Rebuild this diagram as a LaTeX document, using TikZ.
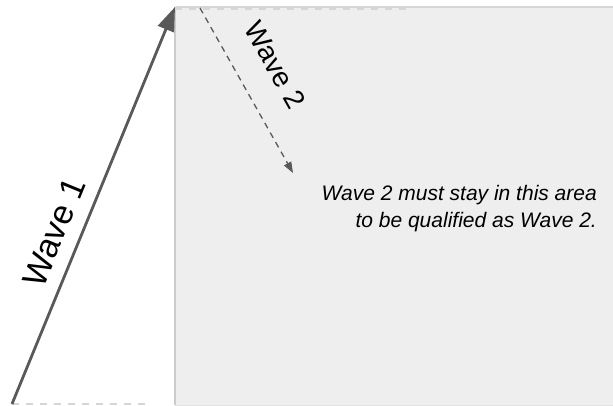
\documentclass[tikz,border=0pt]{standalone}
\usepackage{fontspec}
\setmainfont{Liberation Sans}
\usetikzlibrary{arrows.meta,positioning,calc}
\definecolor{zonefill}{HTML}{EEEEEE}
\definecolor{zoneedge}{HTML}{CCCCCC}
\definecolor{waveline}{HTML}{595959}
\definecolor{guide}{HTML}{D6D6D6}

\begin{document}
\begin{tikzpicture}[
  x=1pt, y=-1pt,
  zone/.style={fill=zonefill, inner sep=0pt, anchor=north west, minimum width=438pt, minimum height=398pt},
  wavemain/.style={-{Triangle[length=24pt,width=17pt]}, line width=2.8pt, color=waveline},
  wavesub/.style={-{Triangle[length=11pt,width=8pt]}, line width=1.3pt, dash pattern=on 6pt off 5pt, color=waveline},
  guideline/.style={line width=2pt, color=guide, dash pattern=on 7pt off 7pt},
  wavelabel/.style={inner sep=0pt},
  note/.style={font=\itshape\fontsize{21}{27.3}\selectfont, align=right, inner sep=0pt}
]
  \useasboundingbox (0,0) rectangle (613,406);
  \node[zone] (zone) at (175,7) {};
  \draw[zoneedge, line width=1.5pt] (zone.south west) -- (zone.north west);
  \draw[guide, line width=2pt] (zone.north west) -- (zone.north east);
  \draw[guide!70, line width=1pt] (zone.south west) -- (zone.south east);

  \coordinate (w1start) at (12,404);
  \coordinate (baseend) at (145,404);
  \coordinate (topend) at (410,9);
  \coordinate (w2start) at (200,8);
  \coordinate (w2end) at (293,173);

  \draw[guideline] (w1start) -- (baseend);
  \draw[guideline] (zone.north west) ++(0,2) -- (topend);

  \draw[wavemain] (w1start) -- (zone.north west);
  \draw[wavesub] (w2start) -- (w2end);

  \node[wavelabel, font=\fontsize{34}{40}\selectfont, rotate=67.7] (wave1label) at (54,232) {Wave 1};
  \node[wavelabel, font=\fontsize{28}{32}\selectfont, rotate=-60.5] (wave2label) at (275,65) {Wave 2};
  \node[note, anchor=north east] (rule) at (597,185)
    {Wave 2 must stay in this area\\to be qualified as Wave 2.};
\end{tikzpicture}
\end{document}
